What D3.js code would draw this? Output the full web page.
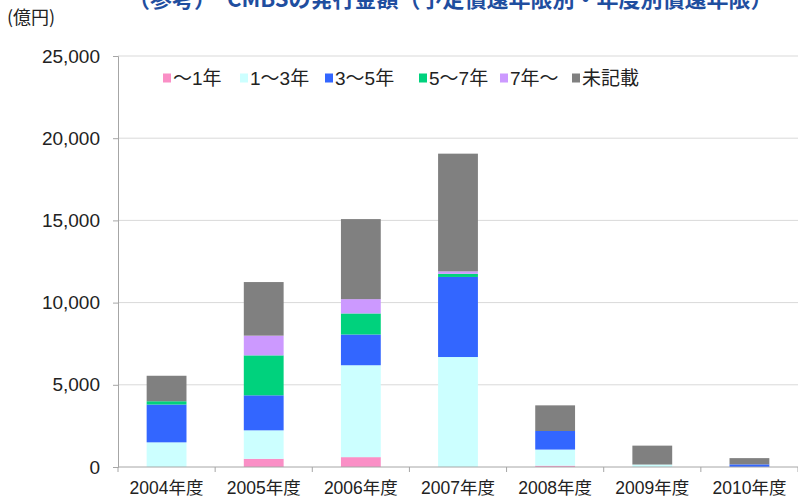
<!DOCTYPE html>
<html>
<head>
<meta charset="utf-8">
<script src="https://cdn.jsdelivr.net/npm/d3@7"></script>
<style>
  body { margin: 0; background: #fff; }
  svg text { font-family: "Liberation Sans", Arial, "Noto Sans CJK JP", sans-serif; }
</style>
</head>
<body>
<div id="chart"></div>
<script>
// categories, series and values (億円)
const years = ["2004年度", "2005年度", "2006年度", "2007年度", "2008年度", "2009年度", "2010年度"];
const seriesNames = ["～1年", "1～3年", "3～5年", "5～7年", "7年～", "未記載"];
const seriesColors = ["#FA8FC6", "#CCFFFF", "#3366FF", "#00D27D", "#CC99FF", "#808080"];

const upTo1 = [0, 500, 600, 0, 80, 0, 0];
const from1to3 = [1500, 1730, 5590, 6690, 980, 150, 0];
const from3to5 = [2300, 2130, 1870, 4870, 1130, 0, 160];
const from5to7 = [200, 2430, 1280, 190, 0, 0, 0];
const over7 = [0, 1200, 870, 150, 0, 0, 0];
const unknown = [1550, 3260, 4870, 7160, 1560, 1150, 380];

const yTicks = [0, 5000, 10000, 15000, 20000, 25000];

document.addEventListener('DOMContentLoaded', () => {
    const W = 798, H = 498;
    const margin = { top: 56, right: 0, bottom: 31, left: 118 },
        width = W - margin.left - margin.right,
        height = H - margin.top - margin.bottom;

    const svg = d3.select("#chart")
        .append("svg")
        .attr("width", W)
        .attr("height", H);

    // title, cut off at the top edge as in the source picture
    svg.append("text")
        .attr("x", 128)
        .attr("y", 7)
        .style("font-family", "'Noto Sans CJK JP', sans-serif")
        .style("font-size", "22px")
        .style("font-weight", "bold")
        .style("fill", "#1F4E9F")
        .text("（参考）　CMBSの発行金額（予定償還年限別・年度別償還年限）");

    // unit label
    svg.append("text")
        .attr("x", 7)
        .attr("y", 24)
        .style("font-family", "'Noto Sans CJK JP', sans-serif")
        .style("font-size", "18px")
        .style("fill", "#222")
        .text("(億円)");

    const g = svg.append("g")
        .attr("transform", "translate(" + margin.left + "," + margin.top + ")");

    // build stacked table
    const cols = [upTo1, from1to3, from3to5, from5to7, over7, unknown];
    const table = years.map((y, i) => {
        const row = { year: y };
        seriesNames.forEach((s, k) => { row[s] = cols[k][i]; });
        return row;
    });
    const stacked = d3.stack().keys(seriesNames)(table);

    const x = d3.scaleBand()
        .domain(years)
        .range([0, width])
        .paddingInner(0.59)
        .paddingOuter(0.295);

    const y = d3.scaleLinear()
        .domain([0, 25000])
        .range([height, 0]);

    // gridlines
    g.append("g")
        .selectAll("line")
        .data(yTicks.slice(1))
        .enter().append("line")
        .attr("x1", 0)
        .attr("x2", width)
        .attr("y1", d => y(d))
        .attr("y2", d => y(d))
        .style("stroke", "#D9D9D9")
        .style("stroke-width", 1);

    // bars
    g.selectAll(".layer")
        .data(stacked)
        .enter().append("g")
        .attr("class", "layer")
        .style("fill", (d, i) => seriesColors[i])
        .selectAll("rect")
        .data(d => d)
        .enter().append("rect")
        .attr("x", d => x(d.data.year))
        .attr("width", x.bandwidth())
        .attr("y", d => y(d[1]))
        .attr("height", d => y(d[0]) - y(d[1]));

    // y axis
    const yAxis = g.append("g")
        .call(d3.axisLeft(y).tickValues(yTicks).tickFormat(d3.format(",")).tickSize(5).tickPadding(13));
    yAxis.select(".domain").style("stroke", "#A6A6A6");
    yAxis.selectAll(".tick line").style("stroke", "#A6A6A6");
    yAxis.selectAll("text")
        .style("font-size", "19px")
        .style("fill", "#222");

    // x axis: labels at band centres, ticks at band boundaries
    const xAxis = g.append("g")
        .attr("transform", "translate(0," + height + ")");
    xAxis.append("line")
        .attr("x1", 0).attr("x2", width)
        .style("stroke", "#A6A6A6");
    const step = x.step();
    xAxis.selectAll(".xtick")
        .data(d3.range(years.length + 1))
        .enter().append("line")
        .attr("class", "xtick")
        .attr("x1", i => i * step)
        .attr("x2", i => i * step)
        .attr("y1", 0)
        .attr("y2", 5)
        .style("stroke", "#A6A6A6");
    xAxis.selectAll(".xlabel")
        .data(years)
        .enter().append("text")
        .attr("class", "xlabel")
        .attr("x", d => x(d) + x.bandwidth() / 2)
        .attr("y", 27)
        .style("text-anchor", "middle")
        .style("font-size", "17.5px")
        .style("fill", "#222")
        .text(d => d);

    // legend
    const legendX = [163, 240, 325, 419, 500, 572];
    const legend = svg.selectAll(".legend")
        .data(seriesNames)
        .enter().append("g")
        .attr("class", "legend")
        .attr("transform", (d, i) => "translate(" + legendX[i] + ",78)");
    legend.append("rect")
        .attr("x", 0)
        .attr("y", -4.5)
        .attr("width", 8)
        .attr("height", 9)
        .style("fill", (d, i) => seriesColors[i]);
    legend.append("text")
        .attr("x", 10)
        .attr("y", 0)
        .attr("dy", "0.35em")
        .style("font-size", "19px")
        .style("fill", "#222")
        .text(d => d);
});
</script>
</body>
</html>
